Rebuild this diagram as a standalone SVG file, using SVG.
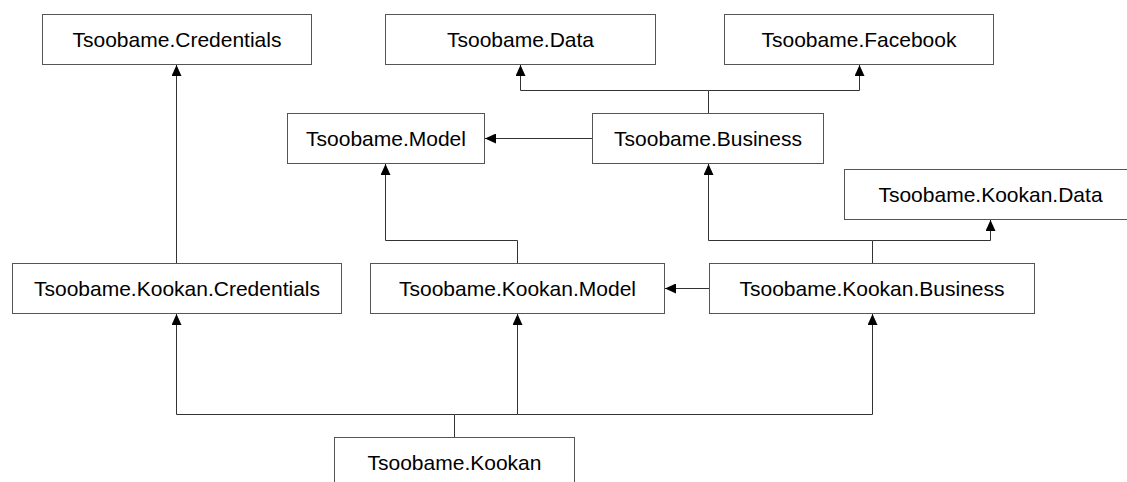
<svg xmlns="http://www.w3.org/2000/svg" width="1127" height="482" viewBox="0 0 1127 482">
<style>
.box{fill:#fff;stroke:#555;stroke-width:1}
.lbl{font-family:"Liberation Sans",Arial,sans-serif;font-size:21px;fill:#000;text-anchor:middle}
.conn{fill:none;stroke:#333;stroke-width:1}
</style>
<defs>
<marker id="arr" markerUnits="userSpaceOnUse" markerWidth="11" markerHeight="10" refX="11" refY="5" orient="auto">
<path d="M0,0 L11,5 L0,10 z" fill="#000"/>
</marker>
</defs>
<rect width="1127" height="482" fill="#fff"/>
<g id="connectors">
<path class="conn" d="M176.5,263 V65" marker-end="url(#arr)"/>
<path class="conn" d="M708.5,113 V90.5 H520.5 V65" marker-end="url(#arr)"/>
<path class="conn" d="M708.5,90.5 H859.5 V65" marker-end="url(#arr)"/>
<path class="conn" d="M592,138.5 H485" marker-end="url(#arr)"/>
<path class="conn" d="M517.5,263 V240.5 H385.5 V164" marker-end="url(#arr)"/>
<path class="conn" d="M872.5,263 V240.5 H708.5 V164" marker-end="url(#arr)"/>
<path class="conn" d="M872.5,240.5 H990.5 V220" marker-end="url(#arr)"/>
<path class="conn" d="M709,288.5 H665" marker-end="url(#arr)"/>
<path class="conn" d="M454.5,437 V414.5 H176.5 V314" marker-end="url(#arr)"/>
<path class="conn" d="M454.5,414.5 H517.5 V314" marker-end="url(#arr)"/>
<path class="conn" d="M517.5,414.5 H872.5 V314" marker-end="url(#arr)"/>
</g>
<g id="credentials"><rect class="box" x="42.5" y="14.5" width="269" height="50"/><text class="lbl" x="177" y="47">Tsoobame.Credentials</text></g>
<g id="data"><rect class="box" x="385.5" y="14.5" width="270" height="50"/><text class="lbl" x="520.5" y="47">Tsoobame.Data</text></g>
<g id="facebook"><rect class="box" x="724.5" y="14.5" width="269" height="50"/><text class="lbl" x="859" y="47">Tsoobame.Facebook</text></g>
<g id="model"><rect class="box" x="287.5" y="113.5" width="197" height="50"/><text class="lbl" x="386" y="146">Tsoobame.Model</text></g>
<g id="business"><rect class="box" x="592.5" y="113.5" width="231" height="50"/><text class="lbl" x="708" y="146">Tsoobame.Business</text></g>
<g id="kookan-data"><rect class="box" x="844.5" y="169.5" width="293" height="50"/><text class="lbl" x="990.5" y="202">Tsoobame.Kookan.Data</text></g>
<g id="kookan-credentials"><rect class="box" x="12.5" y="263.5" width="329" height="50"/><text class="lbl" x="177" y="296">Tsoobame.Kookan.Credentials</text></g>
<g id="kookan-model"><rect class="box" x="370.5" y="263.5" width="294" height="50"/><text class="lbl" x="517.5" y="296">Tsoobame.Kookan.Model</text></g>
<g id="kookan-business"><rect class="box" x="709.5" y="263.5" width="325" height="50"/><text class="lbl" x="872" y="296">Tsoobame.Kookan.Business</text></g>
<g id="kookan"><rect class="box" x="334.5" y="437.5" width="240" height="50"/><text class="lbl" x="454.5" y="470">Tsoobame.Kookan</text></g>
</svg>
